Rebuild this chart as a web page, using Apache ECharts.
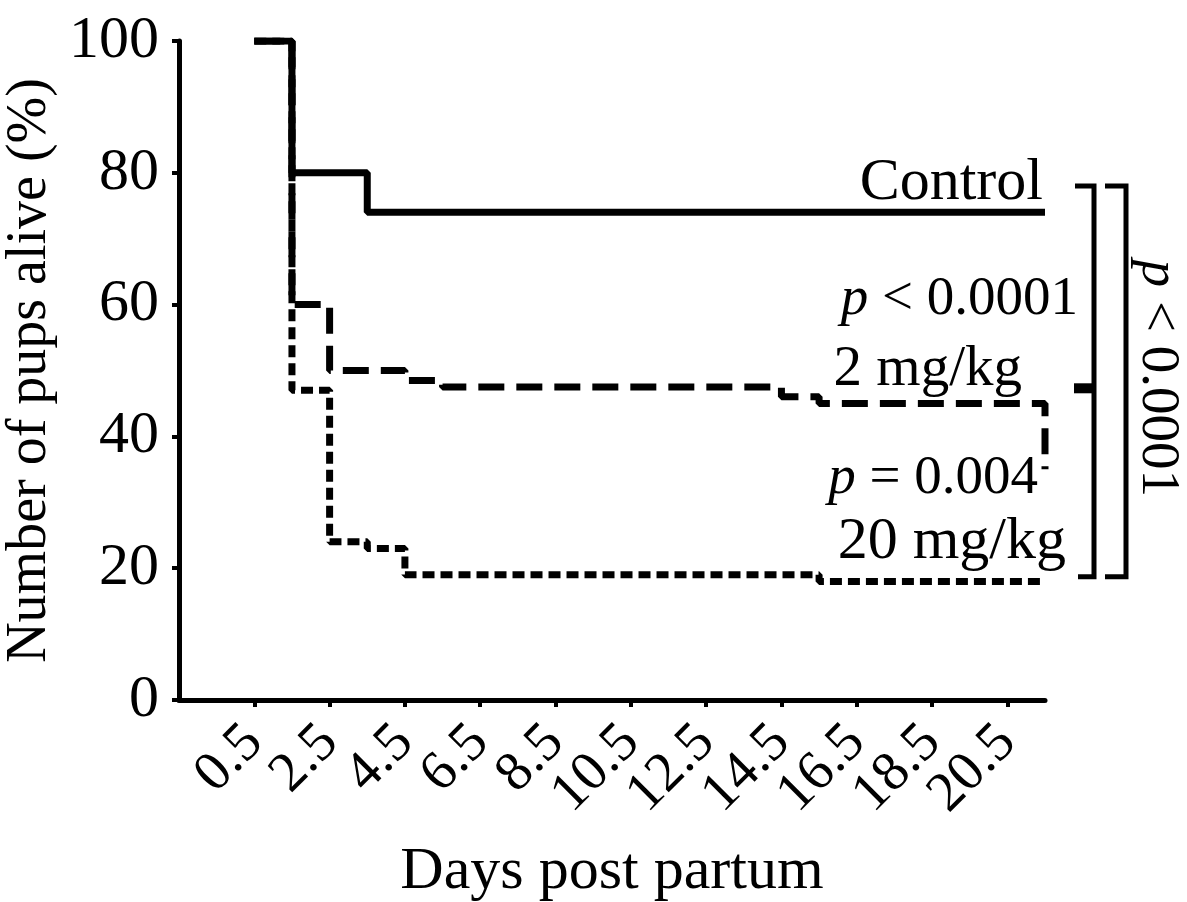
<!DOCTYPE html>
<html>
<head>
<meta charset="utf-8" />
<title>Pups alive</title>
<script src="https://cdn.jsdelivr.net/npm/echarts@6/dist/echarts.min.js"></script>
<style>
  html, body { margin: 0; padding: 0; background: #fff; }
  #main { width: 1187px; height: 902px; }
</style>
</head>
<body>
<div id="main"></div>
<script type="text/javascript">
// data (Kaplan-Meier style steps, value held until next day)
var controlDays = [0.5, 1.5, 3.5, 21.5];
var controlAlive = [100, 80, 74, 74];

var lowDays = [0.5, 1.5, 2.5, 4.5, 5.5, 14.5, 15.5, 21.5, 21.5];
var lowAlive = [100, 60, 50, 48.5, 47.5, 46, 45, 45, 35];

var highDays = [0.5, 1.5, 2.5, 3.5, 4.5, 15.5, 21.5];
var highAlive = [100, 47, 24, 23, 19, 18, 18];

var xTicks = [0.5, 2.5, 4.5, 6.5, 8.5, 10.5, 12.5, 14.5, 16.5, 18.5, 20.5];

// levels of the comparison brackets (top, middle, bottom)
var bracketLevels = [78, 47.3, 18.7];

var serif = "'Liberation Serif', 'DejaVu Serif', serif";

function pairs(xs, ys) {
    var out = [];
    for (var i = 0; i < xs.length; i++) out.push([xs[i], ys[i]]);
    return out;
}

// tilted labels overlap each other, and echarts drops the end ones when they do,
// so every other label goes on a second (invisible) x axis
var labelsA = xTicks.filter(function (v, i) { return i % 2 === 0; });
var labelsB = xTicks.filter(function (v, i) { return i % 2 === 1; });

var tickLabel = { rotate: 45, margin: 34, hideOverlap: false,
                  showMinLabel: true, showMaxLabel: true,
                  fontFamily: serif, fontSize: 56, color: '#000' };

var myChart = echarts.init(document.getElementById('main'));

myChart.setOption({
    animation: false,
    backgroundColor: '#fff',
    grid: { left: 179, right: 142, top: 41, bottom: 202, containLabel: false, outerBoundsMode: 'none' },
    xAxis: [
        {
            type: 'value',
            min: -1.5,
            max: 21.5,
            position: 'bottom',
            name: 'Days post partum',
            nameLocation: 'middle',
            nameGap: 142,
            nameTextStyle: { fontFamily: serif, fontSize: 60, color: '#000' },
            axisLine: { onZero: false, lineStyle: { color: '#000', width: 5 } },
            axisTick: { show: true, inside: false, length: 7, customValues: xTicks,
                        lineStyle: { color: '#000', width: 4 } },
            axisLabel: Object.assign({ customValues: labelsA }, tickLabel),
            splitLine: { show: false }
        },
        {
            type: 'value',
            min: -1.5,
            max: 21.5,
            position: 'bottom',
            offset: 0,
            axisLine: { show: false, onZero: false },
            axisTick: { show: false },
            axisLabel: Object.assign({ customValues: labelsB }, tickLabel),
            splitLine: { show: false }
        }
    ],
    yAxis: {
        type: 'value',
        min: 0,
        max: 100,
        interval: 20,
        name: 'Number of pups alive (%)',
        nameLocation: 'middle',
        nameGap: 110,
        nameTextStyle: { fontFamily: serif, fontSize: 56, color: '#000' },
        axisLine: { show: true, onZero: false, lineStyle: { color: '#000', width: 5 } },
        axisTick: { show: true, inside: false, length: 7, lineStyle: { color: '#000', width: 4 } },
        axisLabel: { margin: 20, fontFamily: serif, fontSize: 60, color: '#000' },
        splitLine: { show: false }
    },
    series: [
        {
            name: '20 mg/kg',
            type: 'line',
            step: 'end',
            symbol: 'none',
            data: pairs(highDays, highAlive),
            lineStyle: { color: '#000', width: 7, type: [12, 6] }
        },
        {
            name: '2 mg/kg',
            type: 'line',
            step: 'end',
            symbol: 'none',
            data: pairs(lowDays, lowAlive),
            lineStyle: { color: '#000', width: 7, type: [26, 12] }
        },
        {
            name: 'Control',
            type: 'line',
            step: 'end',
            symbol: 'none',
            data: pairs(controlDays, controlAlive),
            lineStyle: { color: '#000', width: 7 }
        }
    ]
});

// annotations: group labels, p values, brackets
var yTop = myChart.convertToPixel({ yAxisIndex: 0 }, bracketLevels[0]);
var yMid = myChart.convertToPixel({ yAxisIndex: 0 }, bracketLevels[1]);
var yBot = myChart.convertToPixel({ yAxisIndex: 0 }, bracketLevels[2]);

// y given as baseline; shifted to the middle of the text
function label(text, x, baseline, size) {
    return {
        type: 'text', x: x, y: baseline - 0.33 * size,
        style: {
            text: text, fill: '#000', fontFamily: serif, fontSize: size,
            align: 'right', verticalAlign: 'middle',
            rich: { i: { fontStyle: 'italic', fontFamily: serif, fontSize: size, fill: '#000' } }
        }
    };
}

var bracketStyle = { stroke: '#000', lineWidth: 5, fill: null };

myChart.setOption({
    graphic: [
        label('Control', 1043, 203, 60),
        label('{i|p} < 0.0001', 1078, 318, 55),
        label('2 mg/kg', 1022, 389, 57),
        label('{i|p} = 0.004', 1038, 497, 55),
        label('20 mg/kg', 1066, 562, 60),
        {
            type: 'polyline',
            shape: { points: [[1075, yTop], [1094, yTop], [1094, yBot], [1078, yBot]] },
            style: bracketStyle
        },
        {
            type: 'line',
            shape: { x1: 1074, y1: yMid, x2: 1094, y2: yMid },
            style: { stroke: '#000', lineWidth: 10 }
        },
        {
            type: 'polyline',
            shape: { points: [[1105, yTop], [1126, yTop], [1126, yBot], [1105, yBot]] },
            style: bracketStyle
        },
        {
            type: 'text', x: 1157, y: (yTop + yBot) / 2 - 3, rotation: -Math.PI / 2,
            style: {
                text: '{i|p} < 0.0001', fill: '#000', fontFamily: serif, fontSize: 55,
                align: 'center', verticalAlign: 'middle',
                rich: { i: { fontStyle: 'italic', fontFamily: serif, fontSize: 55, fill: '#000' } }
            }
        }
    ]
});
</script>
</body>
</html>
